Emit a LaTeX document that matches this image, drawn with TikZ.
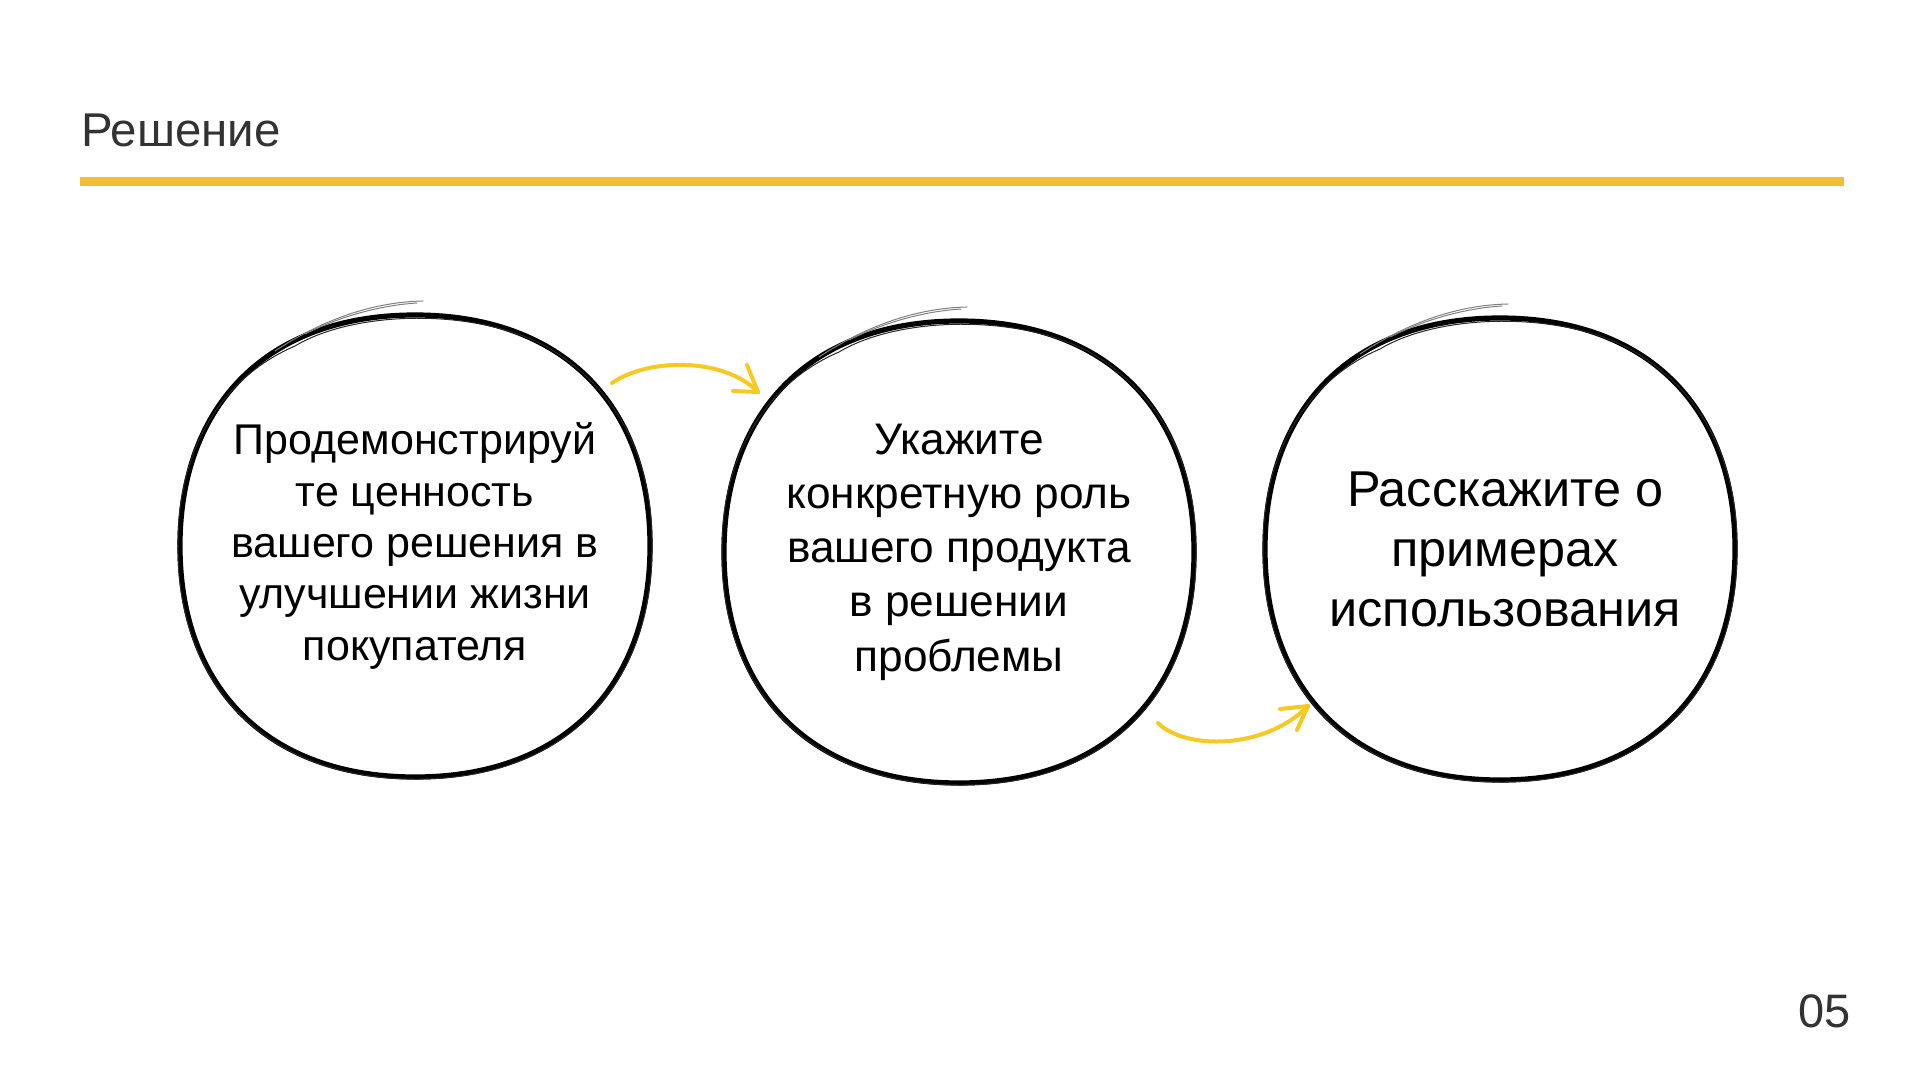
\documentclass[tikz,border=0pt]{standalone}
\usepackage{fontspec}
\setmainfont{Liberation Sans}
\usetikzlibrary{calc}
\definecolor{ruleyellow}{RGB}{240,192,50}
\definecolor{arrowyellow}{RGB}{246,202,34}
\definecolor{titlegray}{RGB}{51,51,51}

\tikzset{
  bubble/.style={circle, minimum size=235pt, inner sep=0pt, align=center, text=black},
  bubbletext/.style={inner sep=0pt, align=center, text=black},
  sketchmain/.style={line width=2.6pt, black, line join=round},
  sketchthin/.style={line width=0.5pt, black!85},
  sketchtail/.style={line width=0.5pt, black!50, line cap=round},
  yarrow/.style={arrowyellow, line width=2pt, line cap=round, line join=round},
}

\newcommand\sketchring[1]{%
  \begin{scope}[shift={(#1)}]
    \draw[sketchmain] (0,-231) .. controls (146,-231) and (235,-143) .. (235,0)
      .. controls (235,143) and (146,231) .. (0,231)
      .. controls (-146,231) and (-235,143) .. (-235,0)
      .. controls (-235,-143) and (-146,-231) .. (0,-231) -- cycle;
    \draw[sketchthin] (-120,-200) .. controls (-60,-236) and (60,-238) .. (130,-200)
      .. controls (200,-160) and (238,-90) .. (237,0)
      .. controls (238,140) and (150,234) .. (0,233)
      .. controls (-148,233) and (-238,140) .. (-237,0)
      .. controls (-238,-100) and (-190,-170) .. (-120,-200);
    \draw[sketchtail] (-140,-195) .. controls (-90,-228) and (-40,-244) .. (8,-245);
    \draw[sketchtail] (-110,-212) .. controls (-70,-232) and (-30,-241) .. (2,-243);
  \end{scope}}

\begin{document}
\begin{tikzpicture}[x=0.5pt, y=-0.5pt]
  \useasboundingbox (0,0) rectangle (1920,1080);
  \fill[white] (0,0) rectangle (1920,1080);

  % title and rule
  \node[anchor=base west, inner sep=0pt, text=titlegray,
        font=\fontsize{23.7}{28}\selectfont] (title) at (81,147) {Решение};
  \draw[ruleyellow, line width=4.5pt] (80,182) -- (1844,182);

  % bubbles
  \node[bubble, font=\fontsize{21.5}{25.75}\selectfont] (c1) at (415,546)
    {Продемонстрируй\\те ценность\\вашего решения в\\улучшении жизни\\покупателя};
  \node[bubble, font=\fontsize{22.1}{27.1}\selectfont] (c2) at (959,552)
    {Укажите\\конкретную роль\\вашего продукта\\в решении\\проблемы};
  \node[bubble] (c3) at (1500,549) {};
  \node[bubbletext, font=\fontsize{25.2}{30}\selectfont] (t3) at ($(c3.center)+(5,0)$)
    {Расскажите о\\примерах\\использования};

  \sketchring{c1.center}
  \sketchring{c2.center}
  \sketchring{c3.center}

  % arrows
  \coordinate (a1s) at ($(c1.center)+(197,-163)$);
  \coordinate (a1e) at ($(c2.center)+(-201,-160)$);
  \coordinate (a2s) at ($(c2.center)+(199,171)$);
  \coordinate (a2e) at ($(c3.center)+(-192,157)$);

  \draw[yarrow] (a1s) .. controls +(38,-26) and +(-33,-34) .. (a1e);
  \draw[yarrow] (a1e) -- ++(-11,-27);
  \draw[yarrow] (a1e) -- ++(-25,-1);

  \draw[yarrow] (a2s) .. controls +(27,27) and +(-43,44) .. (a2e);
  \draw[yarrow] (a2e) -- ++(-28,3);
  \draw[yarrow] (a2e) -- ++(-11,24);

  % page number
  \node[anchor=base east, inner sep=0pt, text=titlegray,
        font=\fontsize{23.5}{28}\selectfont] (pnum) at (1851,1027) {05};
\end{tikzpicture}
\end{document}
